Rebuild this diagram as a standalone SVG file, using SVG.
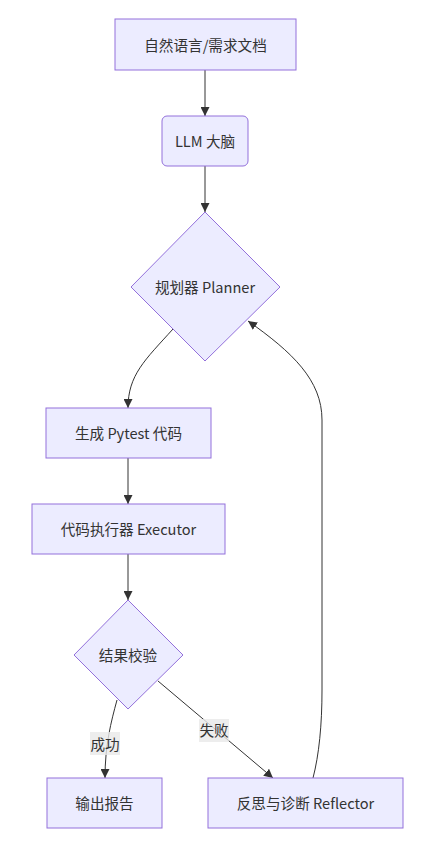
<svg xmlns="http://www.w3.org/2000/svg" width="426" height="848" viewBox="0 0 426 848">
<style>
.node rect, .node polygon { fill: #ECECFF; stroke: #9370DB; stroke-width: 1; }
.lbl { font-family: "Noto Sans CJK SC", "Liberation Sans", sans-serif; font-size: 14.6px; fill: #333333; text-anchor: middle; dominant-baseline: central; }
.edge { fill: none; stroke: #333333; stroke-width: 1; }
.elbg { fill: #E8E8E8; fill-opacity: 0.8; }
</style>
<defs>
<marker id="arrow" viewBox="0 0 10 10" refX="10" refY="5" markerWidth="9" markerHeight="9" markerUnits="userSpaceOnUse" orient="auto">
<path d="M0,0 L10,5 L0,10 z" fill="#333333"/>
</marker>
</defs>
<rect width="426" height="848" fill="#FFFFFF"/>
<g id="edges">
<path class="edge" d="M205,70 L205,116" marker-end="url(#arrow)"/>
<path class="edge" d="M205,166 L205,212" marker-end="url(#arrow)"/>
<path class="edge" d="M173,329 C145,360 128,375 128,408" marker-end="url(#arrow)"/>
<path class="edge" d="M128,458 L128,504" marker-end="url(#arrow)"/>
<path class="edge" d="M128,554 L128,600" marker-end="url(#arrow)"/>
<path class="edge" d="M117,700 C111,722 105,745 105,778" marker-end="url(#arrow)"/>
<path class="edge" d="M158,681 L273,778" marker-end="url(#arrow)"/>
<path class="edge" d="M313,778 C319,755 322,725 322,690 L322,420 C322,380 292,352 248,321" marker-end="url(#arrow)"/>
<rect class="elbg" x="90" y="732" width="30" height="23"/>
<text class="lbl" x="105" y="743">成功</text>
<rect class="elbg" x="199" y="719" width="30" height="23"/>
<text class="lbl" x="214" y="729">失败</text>
</g>
<g id="node-input" class="node">
<rect x="115" y="19" width="181" height="51"/>
<text class="lbl" x="205.5" y="44">自然语言/需求文档</text>
</g>
<g id="node-llm" class="node">
<rect x="162" y="116" width="86" height="50" rx="5" ry="5"/>
<text class="lbl" x="205" y="140">LLM 大脑</text>
</g>
<g id="node-planner" class="node">
<polygon points="205,212 280,287 205,361 131,287"/>
<text class="lbl" x="205" y="286">规划器 Planner</text>
</g>
<g id="node-gen" class="node">
<rect x="46" y="408" width="165" height="50"/>
<text class="lbl" x="128.5" y="432">生成 Pytest 代码</text>
</g>
<g id="node-exec" class="node">
<rect x="32" y="504" width="193" height="50"/>
<text class="lbl" x="128.5" y="528">代码执行器 Executor</text>
</g>
<g id="node-check" class="node">
<polygon points="128,600 183,655 128,709 74,655"/>
<text class="lbl" x="128" y="654">结果校验</text>
</g>
<g id="node-report" class="node">
<rect x="47" y="778" width="115" height="50"/>
<text class="lbl" x="104.5" y="802">输出报告</text>
</g>
<g id="node-reflect" class="node">
<rect x="208" y="778" width="195" height="50"/>
<text class="lbl" x="305.5" y="802">反思与诊断 Reflector</text>
</g>
</svg>
